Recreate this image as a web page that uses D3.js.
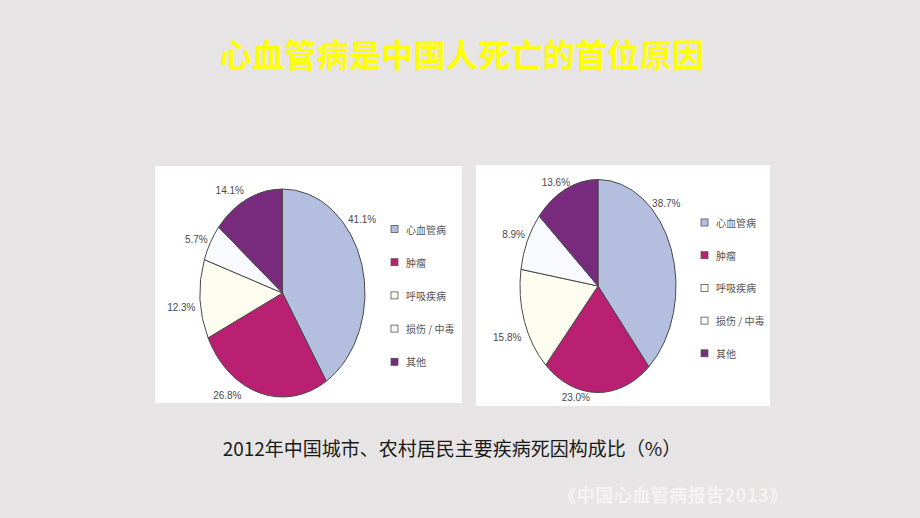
<!DOCTYPE html>
<html>
<head>
<meta charset="utf-8">
<script src="https://cdn.jsdelivr.net/npm/d3@7/dist/d3.min.js"></script>
<style>
html,body{margin:0;padding:0;background:#e6e4e4;}
svg{display:block;}
</style>
</head>
<body>
<svg id="chart" width="920" height="518"></svg>
<script>
// ---- data ----
const categories = ["心血管病", "肿瘤", "呼吸疾病", "损伤 / 中毒", "其他"];
const urbanValues = [41.1, 26.8, 12.3, 5.7, 14.1];
const ruralValues = [38.7, 23.0, 15.8, 8.9, 13.6];
const titleText = "心血管病是中国人死亡的首位原因";
const captionText = "2012年中国城市、农村居民主要疾病死因构成比（%）";
const sourceText = "《中国心血管病报告2013》";

// ---- style / layout ----
const colors = ["#b4bfe0", "#ba2072", "#fffdf0", "#f8faff", "#782a7d"];
const panels = [
  {values: urbanValues, box: [155, 166, 462, 403], cx: 282.5, cy: 293, rx: 82.5, ry: 104,
   legendX: 391, legendY: 229, legendStep: 33.2,
   nudges: [[-14, -40], [-28, -15], [-4, 7], [-1, 6], [-11, 8]]},
  {values: ruralValues, box: [476, 165, 770, 406], cx: 598, cy: 286, rx: 78, ry: 106.5,
   legendX: 701, legendY: 222.5, legendStep: 32.7,
   nudges: [[-18, -39], [-21, -14], [-4, 10], [-1, 2], [-4, 11]]}
];

const svg = d3.select("#chart");

svg.append("text")
  .attr("x", 462).attr("y", 67)
  .attr("text-anchor", "middle")
  .attr("font-family", "'Noto Sans CJK SC', sans-serif")
  .attr("font-weight", "bold")
  .attr("font-size", 32)
  .attr("letter-spacing", 0.3)
  .attr("fill", "#ffff00")
  .text(titleText);

const pie = d3.pie().sort(null).value(d => d);

panels.forEach(p => {
  const [x0, y0, x1, y1] = p.box;
  svg.append("rect")
    .attr("x", x0).attr("y", y0)
    .attr("width", x1 - x0).attr("height", y1 - y0)
    .attr("fill", "#ffffff");

  const arcs = pie(p.values);
  const arc = d3.arc().innerRadius(0).outerRadius(p.ry);
  const g = svg.append("g")
    .attr("transform", `translate(${p.cx},${p.cy}) scale(${p.rx / p.ry},1)`);
  g.selectAll("path").data(arcs).join("path")
    .attr("d", arc)
    .attr("fill", (d, i) => colors[i])
    .attr("stroke", "#4a4a4a")
    .attr("stroke-width", 1)
    .attr("vector-effect", "non-scaling-stroke");

  // labels
  const k = 1.18;
  svg.append("g").selectAll("text").data(arcs).join("text")
    .attr("x", (d, i) => {
      const a = (d.startAngle + d.endAngle) / 2;
      return p.cx + Math.sin(a) * p.rx * k + p.nudges[i][0];
    })
    .attr("y", (d, i) => {
      const a = (d.startAngle + d.endAngle) / 2;
      return p.cy - Math.cos(a) * p.ry * k + p.nudges[i][1];
    })
    .attr("text-anchor", "middle")
    .attr("dominant-baseline", "central")
    .attr("font-family", "'Liberation Sans', Arial, sans-serif")
    .attr("font-size", 10)
    .attr("fill", "#4a4a4a")
    .text(d => d.data.toFixed(1) + "%");

  // legend
  const lg = svg.append("g");
  const rows = lg.selectAll("g").data(categories).join("g")
    .attr("transform", (d, i) => `translate(${p.legendX},${p.legendY + i * p.legendStep})`);
  rows.append("rect")
    .attr("x", 0).attr("y", -3.5)
    .attr("width", 7).attr("height", 7)
    .attr("fill", (d, i) => colors[i])
    .attr("stroke", "#555")
    .attr("stroke-width", 0.8);
  rows.append("text")
    .attr("x", 15).attr("y", 0)
    .attr("dominant-baseline", "central")
    .attr("font-family", "'Noto Sans CJK SC', sans-serif")
    .attr("font-size", 10)
    .attr("fill", "#555")
    .text(d => d);
});

svg.append("text")
  .attr("x", 452).attr("y", 456)
  .attr("text-anchor", "middle")
  .attr("font-family", "'Noto Sans CJK SC', sans-serif")
  .attr("font-size", 19)
  .attr("fill", "#1a1a1a")
  .text(captionText);

svg.append("text")
  .attr("x", 673).attr("y", 502)
  .attr("text-anchor", "middle")
  .attr("font-family", "'Noto Sans CJK SC', serif")
  .attr("font-weight", "bold")
  .attr("font-size", 18)
  .attr("letter-spacing", 0.5)
  .attr("fill", "#f3f3f3")
  .text(sourceText);
</script>
</body>
</html>
